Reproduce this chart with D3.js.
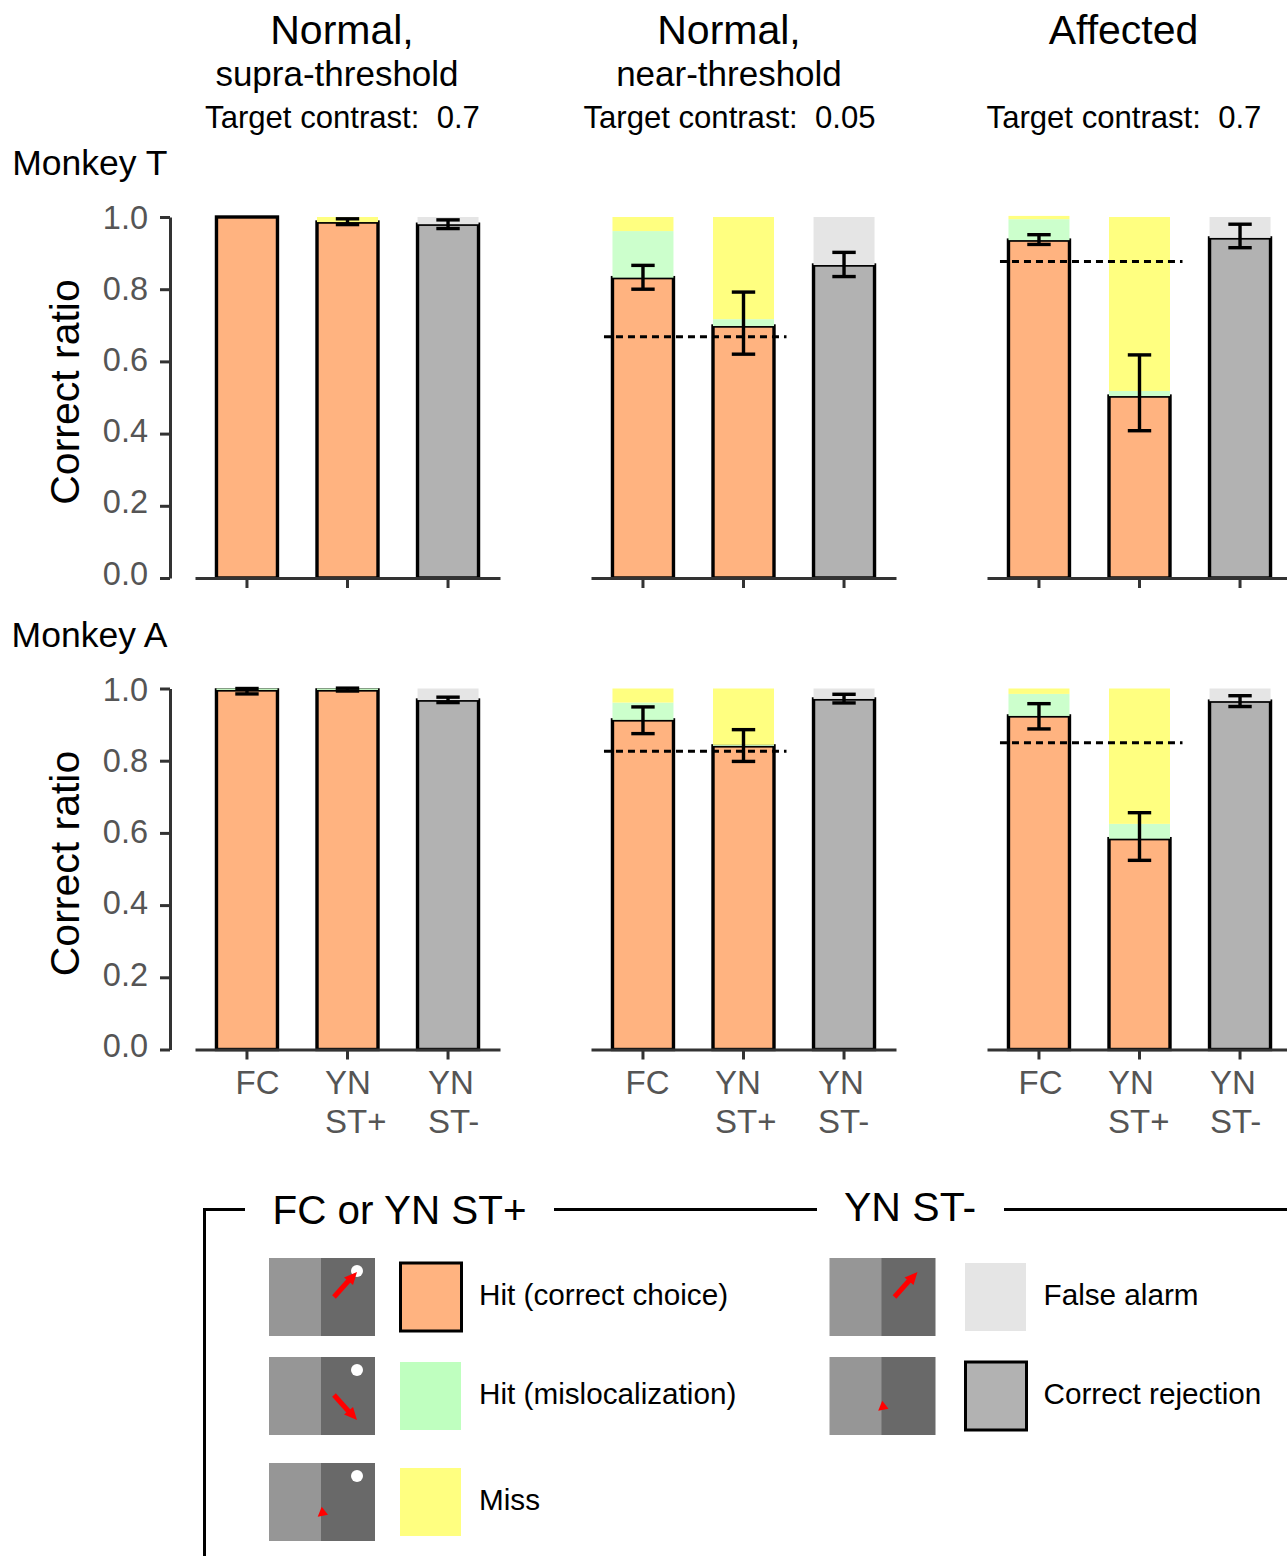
<!DOCTYPE html>
<html><head><meta charset="utf-8">
<script src="https://cdnjs.cloudflare.com/ajax/libs/d3/7.8.5/d3.min.js"></script>
<style>
html,body{margin:0;padding:0;background:#fff;overflow:hidden}
text{font-family:"Liberation Sans",Arial,sans-serif;white-space:pre}
</style></head><body><svg id="c" width="1287" height="1556"></svg>
<script>
// ---------- data ----------
const conditions = ["FC","YN ST+","YN ST-"];
const yTicks = [0,0.2,0.4,0.6,0.8,1.0];
const panels = ["supra","near","affected"];
// rows = panels, columns = conditions
const tCorrect   = [[1.000,0.986,0.980],[0.832,0.698,0.867],[0.936,0.504,0.942]];
const tMisloc    = [[0,0,0],[0.129,0.019,0],[0.058,0.014,0]];
const tTop       = [[1.000,1.000,1.000],[1.000,1.000,1.000],[1.003,1.000,1.000]];
const tErrLow    = [[null,0.979,0.968],[0.800,0.620,0.835],[0.924,0.408,0.915]];
const tErrHigh   = [[null,0.995,0.992],[0.866,0.792,0.902],[0.951,0.618,0.980]];
const tChance    = [null,0.668,0.877];
const aCorrect   = [[0.996,0.996,0.968],[0.913,0.841,0.971],[0.924,0.584,0.965]];
const aMisloc    = [[0.004,0.004,0],[0.048,0.003,0],[0.061,0.041,0]];
const aTop       = [[1.000,1.000,1.000],[1.000,1.000,1.000],[1.000,1.000,1.000]];
const aErrLow    = [[0.985,0.993,0.961],[0.875,0.798,0.960],[0.888,0.524,0.950]];
const aErrHigh   = [[1.000,1.001,0.976],[0.949,0.886,0.984],[0.958,0.656,0.980]];
const aChance    = [null,0.826,0.850];

const titleLines = [["Normal,","supra-threshold","Target contrast:  0.7"],
                    ["Normal,","near-threshold","Target contrast:  0.05"],
                    ["Affected","","Target contrast:  0.7"]];
const legendLeft  = ["Hit (correct choice)","Hit (mislocalization)","Miss"];
const legendRight = ["False alarm","Correct rejection"];

const ORANGE="#FFB380", GRAY="#B2B2B2", GREEN="#CCFFCC", YELLOW="#FFFF80", LIGHT="#E5E5E5";
const AXIS="#333333", TICKTEXT="#555555";

// ---------- layout ----------
const svg = d3.select("#c");
const panelLeft = [195,591,987], panelW = 305, barW = 61;
const rows = [
  {name:"Monkey T", base:578, top:217, labBase:573, labTop:217, nameY:175, corr:tCorrect, mis:tMisloc, tops:tTop, lo:tErrLow, hi:tErrHigh, chance:tChance},
  {name:"Monkey A", base:1049.5, top:688.5, labBase:1045.5, labTop:689, nameY:647, corr:aCorrect, mis:aMisloc, tops:aTop, lo:aErrLow, hi:aErrHigh, chance:aChance}
];
const xTickLabelX = [[235.5,325,428],[625.5,715,818],[1018.5,1108,1210]];

const txt = (g,s,x,y,size,fill="#000",anchor="start") =>
  g.append("text").attr("x",x).attr("y",y).attr("font-size",size).attr("fill",fill)
   .attr("text-anchor",anchor).text(s);

// titles
const titleCx = [[342,337,342.5],[729,729,729.5],[1123.5,1123.5,1124]];
titleLines.forEach((ls,i)=>{
  txt(svg,ls[0],titleCx[i][0],44,41,"#000","middle");
  if(ls[1]) txt(svg,ls[1],titleCx[i][1],86,35,"#000","middle");
  txt(svg,ls[2],titleCx[i][2],128,31.1,"#000","middle");
});

rows.forEach((r,ri)=>{
  const y = d3.scaleLinear().domain([0,1]).range([r.base,r.top]);
  const yLab = d3.scaleLinear().domain([0,1]).range([r.labBase,r.labTop]);

  txt(svg,r.name,167.5,r.nameY,35.5,"#000","end");
  svg.append("text").attr("transform",`translate(78.5,${(r.base+r.top)/2-5.5}) rotate(-90)`)
     .attr("text-anchor","middle").attr("font-size",41).attr("fill","#000").text("Correct ratio");

  // y axis
  const ya = svg.append("g").attr("transform","translate(170,0)")
    .call(d3.axisLeft(y).tickValues(yTicks).tickSize(10).tickSizeOuter(0).tickPadding(12).tickFormat(d3.format(".1f")));
  ya.selectAll("path,line").attr("stroke",AXIS).attr("stroke-width",3);
  ya.selectAll("text").attr("font-size",32.5).attr("fill",TICKTEXT).attr("font-family",'"Liberation Sans"')
    .attr("dy",null).attr("y",d=>yLab(d)-y(d)).attr("dominant-baseline","central");

  panels.forEach((p,pi)=>{
    const x = d3.scaleBand().domain(conditions).range([panelLeft[pi],panelLeft[pi]+panelW])
                .paddingInner(0).paddingOuter(0.017);
    const cx = c=>x(c)+x.bandwidth()/2;

    const g = svg.append("g");
    conditions.forEach((c,ci)=>{
      const hit = r.corr[pi][ci], mis = r.mis[pi][ci], top = r.tops[pi][ci];
      const isNeg = ci===2;
      // correct part with outline
      g.append("rect").attr("x",cx(c)-barW/2).attr("width",barW)
        .attr("y",y(hit)).attr("height",y(0)-y(hit))
        .attr("fill",isNeg?GRAY:ORANGE).attr("stroke","#000").attr("stroke-width",3.4);
      // mislocalization part
      if(mis>0) g.append("rect").attr("x",cx(c)-barW/2).attr("width",barW)
        .attr("y",y(hit+mis)).attr("height",y(hit)-y(hit+mis)).attr("fill",GREEN);
      // miss / false alarm
      if(top>hit+mis) g.append("rect").attr("x",cx(c)-barW/2).attr("width",barW)
        .attr("y",y(top)).attr("height",y(hit+mis)-y(top)).attr("fill",isNeg?LIGHT:YELLOW);
    });

    // x axis
    const xa = svg.append("g").attr("transform",`translate(0,${r.base})`)
      .call(d3.axisBottom(x).tickSize(10).tickSizeOuter(0).tickFormat(""));
    xa.selectAll("path,line").attr("stroke",AXIS).attr("stroke-width",3);

    // chance line
    if(r.chance[pi]!==null){
      svg.append("line").attr("x1",cx(conditions[0])-39).attr("x2",cx(conditions[1])+43)
        .attr("y1",y(r.chance[pi])).attr("y2",y(r.chance[pi]))
        .attr("stroke","#000").attr("stroke-width",3).attr("stroke-dasharray","7 5");
    }

    // error bars
    conditions.forEach((c,ci)=>{
      const lo=r.lo[pi][ci], hi=r.hi[pi][ci];
      if(lo===null) return;
      const e = svg.append("g").attr("stroke","#000").attr("stroke-width",3.4);
      e.append("line").attr("x1",cx(c)).attr("x2",cx(c)).attr("y1",y(lo)).attr("y2",y(hi));
      [lo,hi].forEach(v=>e.append("line").attr("x1",cx(c)-11.7).attr("x2",cx(c)+11.7).attr("y1",y(v)).attr("y2",y(v)));
    });

    // x tick labels in the bottom row
    if(ri===1){
      conditions.forEach((c,ci)=>{
        const parts=c.split(" ");
        const lx=xTickLabelX[pi][ci];
        txt(svg,parts[0],lx,1094,33,TICKTEXT);
        if(parts[1]) txt(svg,parts[1],lx,1133,33,TICKTEXT);
      });
    }
  });
});

// ---------- legend ----------
const frame = svg.append("g").attr("stroke","#000").attr("stroke-width",3).attr("fill","none");
frame.append("path").attr("d","M245,1209.5H204.5V1556");
frame.append("path").attr("d","M554,1209.5H817");
frame.append("path").attr("d","M1004,1209.5H1287");
txt(svg,"FC or YN ST+",272.5,1223.5,40.4);
txt(svg,"YN ST-",844,1221,41);

function scene(x0,y0,opts){
  svg.append("rect").attr("x",x0).attr("y",y0).attr("width",53).attr("height",78).attr("fill","#969696");
  svg.append("rect").attr("x",x0+52).attr("y",y0).attr("width",54).attr("height",78).attr("fill","#696969");
  if(opts.dot) svg.append("circle").attr("cx",x0+88).attr("cy",y0+13).attr("r",6).attr("fill","#fff");
  const red="#FF0000";
  if(opts.arrow==="up"){
    svg.append("line").attr("x1",x0+65).attr("y1",y0+39).attr("x2",x0+82).attr("y2",y0+20).attr("stroke",red).attr("stroke-width",5);
    svg.append("path").attr("d",`M${x0+88},${y0+14}L${x0+84},${y0+27}L${x0+75},${y0+19.5}Z`).attr("fill",red);
  }
  if(opts.arrow==="down"){
    svg.append("line").attr("x1",x0+65).attr("y1",y0+38).attr("x2",x0+82).attr("y2",y0+57).attr("stroke",red).attr("stroke-width",5);
    svg.append("path").attr("d",`M${x0+88},${y0+63}L${x0+75},${y0+57.5}L${x0+84},${y0+50}Z`).attr("fill",red);
  }
  if(opts.arrow==="head"){
    svg.append("path").attr("d",`M${x0+48.7},${y0+53.7}L${x0+59},${y0+51.7}L${x0+52.7},${y0+43.7}Z`).attr("fill",red);
  }
}
scene(269,1258,{dot:true,arrow:"up"});
scene(269,1357,{dot:true,arrow:"down"});
scene(269,1463,{dot:true,arrow:"head"});
scene(829.5,1258,{arrow:"up"});
scene(829.5,1357,{arrow:"head"});

function swatch(x0,y0,fill,outlined){
  const s=svg.append("rect").attr("x",x0).attr("y",y0).attr("width",61).attr("height",68).attr("fill",fill);
  if(outlined) s.attr("stroke","#000").attr("stroke-width",3);
}
swatch(400.5,1263,ORANGE,true);
swatch(400,1362,"#BFFFBF",false);
swatch(400,1468,YELLOW,false);
swatch(965,1263,LIGHT,false);
swatch(965.5,1362,GRAY,true);
[1305,1404,1510].forEach((yy,i)=>txt(svg,legendLeft[i],479,yy,29.7));
[1305,1404].forEach((yy,i)=>txt(svg,legendRight[i],1043.5,yy,29.7));
</script></body></html>
